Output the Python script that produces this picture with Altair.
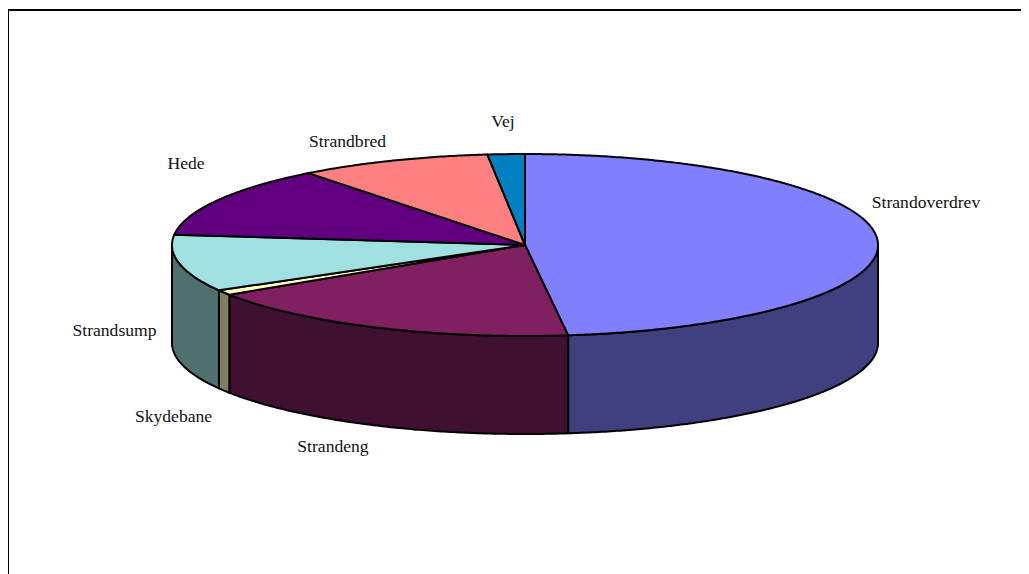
import numpy as np
import pandas as pd
import altair as alt

categories = ["Strandoverdrev", "Strandeng", "Skydebane", "Strandsump", "Hede", "Strandbred", "Vej"]
shares = [48.05, 17.75, 0.9, 10.1, 12.7, 8.8, 1.7]
top_colors = ["#8080FF", "#802060", "#FFFFC0", "#A0E0E0", "#600080", "#FF8080", "#0080C0"]
side_colors = ["#404080", "#401030", "#808060", "#507070", "#300040", "#804040", "#004060"]
label_x = [926, 333, 173.5, 114.5, 186, 347.5, 503]
label_y = [203, 447, 417, 331, 164, 142, 122]
frame_x = [8, 1021]
frame_y = [10, 574]

CX, CY, RX, RY, DEPTH = 525, 245, 353, 91, 98


def rim(deg):
    t = np.radians(deg)
    return CX + RX * np.sin(t), CY - RY * np.cos(t)


edges = np.concatenate([[0], np.cumsum(shares)]) / sum(shares) * 360
tops, walls = [], []
for i, name in enumerate(categories):
    a, b = edges[i], edges[i + 1]
    ang = np.linspace(a, b, max(3, int(b - a) * 2 + 1))
    xs, ys = rim(ang)
    px = [CX, *xs, CX]
    py = [CY, *ys, CY]
    for k, (x, y) in enumerate(zip(px, py)):
        tops.append({"part": name, "x": x, "y": y, "k": k, "c": top_colors[i]})
    lo, hi = max(a, 90), min(b, 270)
    if lo < hi:
        ang = np.linspace(lo, hi, max(3, int(hi - lo) * 2 + 1))
        xs, ys = rim(ang)
        px = [*xs, *xs[::-1], xs[0]]
        py = [*ys, *(ys[::-1] + DEPTH), ys[0]]
        for k, (x, y) in enumerate(zip(px, py)):
            walls.append({"part": name, "x": x, "y": y, "k": k, "c": side_colors[i]})

W, H = 1013, 566
xs = alt.Scale(domain=[8, 8 + W], range=[0, W], nice=False, zero=False)
ys = alt.Scale(domain=[8, 8 + H], range=[0, H], nice=False, zero=False)
X = alt.X("x:Q", scale=xs, axis=None)
Y = alt.Y("y:Q", scale=ys, axis=None)


def shape_layer(rows):
    return alt.Chart(pd.DataFrame(rows)).mark_line(
        stroke="black", strokeWidth=2, strokeJoin="round", interpolate="linear"
    ).encode(
        x=X, y=Y, order="k:Q", detail="part:N",
        fill=alt.Fill("c:N", scale=None, legend=None),
    )


labels = alt.Chart(pd.DataFrame({"t": categories, "x": label_x, "y": label_y})).mark_text(
    font="Liberation Serif", fontSize=17.6, color="#111111", align="center", baseline="middle"
).encode(x=X, y=Y, text="t:N")

frame_v = alt.Chart(pd.DataFrame({"x": [frame_x[0]], "y": [frame_y[0]], "y2": [frame_y[1]]})).mark_rule(
    color="black", strokeWidth=2
).encode(x=X, y=Y, y2="y2:Q")
frame_h = alt.Chart(pd.DataFrame({"x": [frame_x[0]], "x2": [frame_x[1]], "y": [frame_y[0]]})).mark_rule(
    color="black", strokeWidth=2
).encode(x=X, x2="x2:Q", y=Y)

chart = alt.layer(frame_v, frame_h, shape_layer(walls), shape_layer(tops), labels).properties(
    width=W, height=H, padding=0, autosize=alt.AutoSizeParams(type="none"), background="white"
).configure_view(stroke=None)

chart.save("out.html", embed_options={"renderer": "svg", "actions": False})
